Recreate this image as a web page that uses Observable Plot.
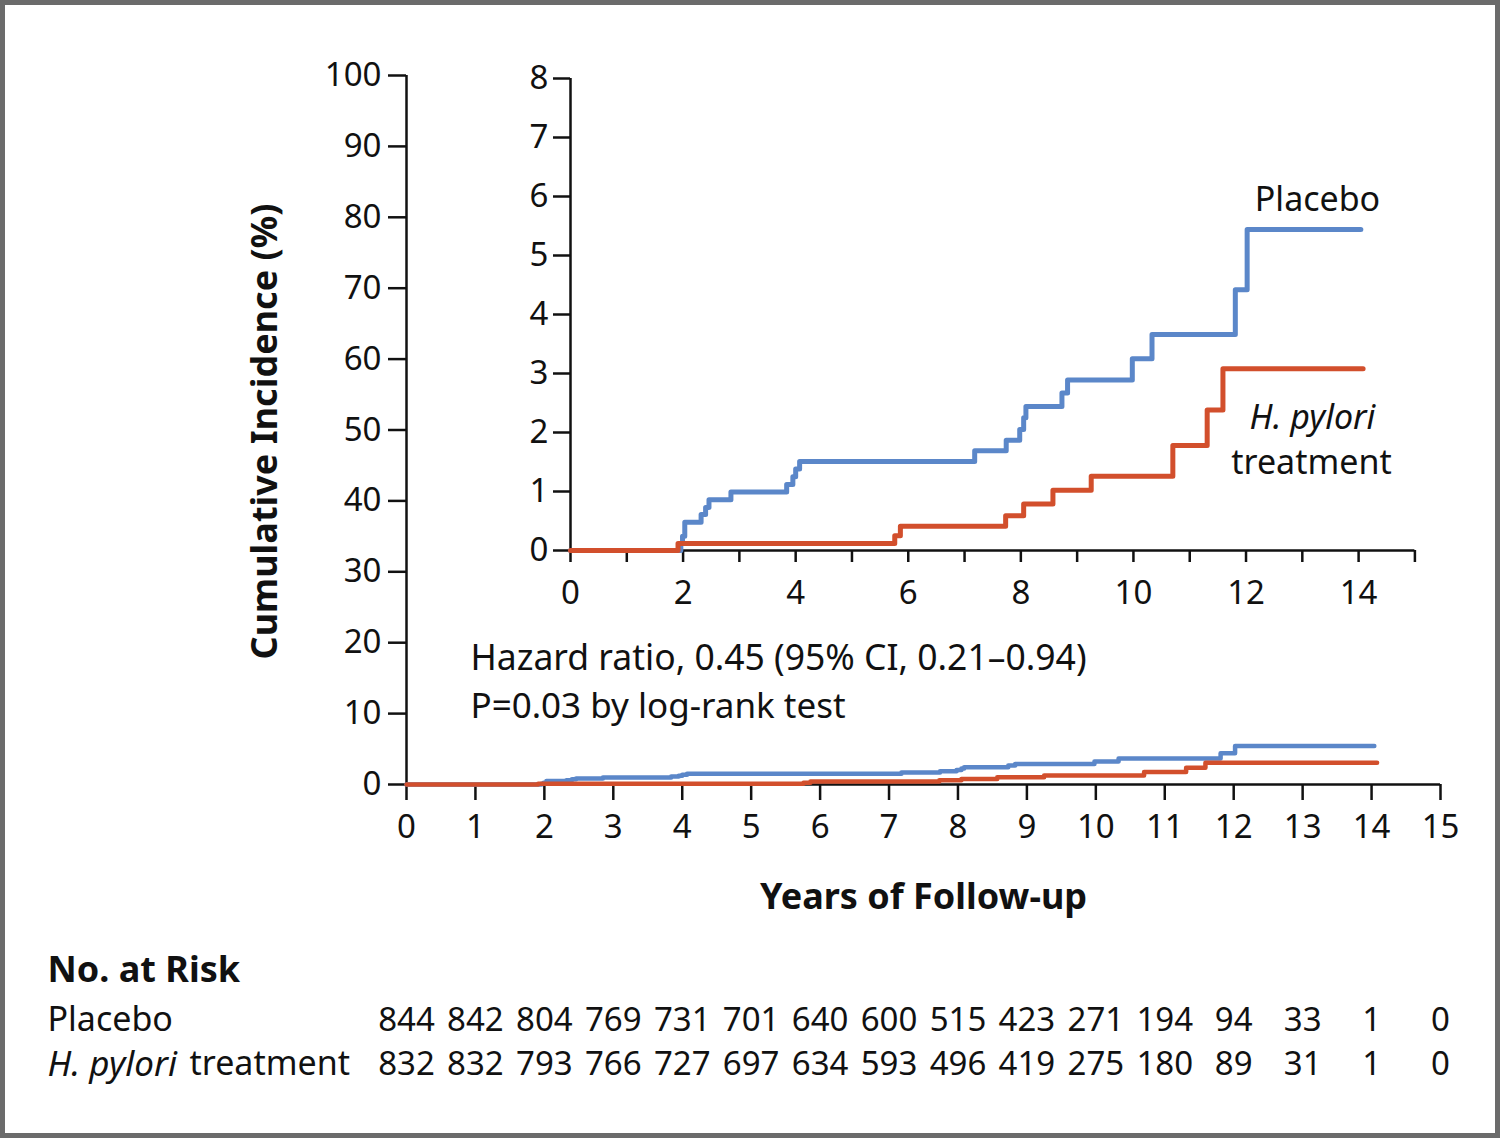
<!DOCTYPE html>
<html>
<head>
<meta charset="utf-8">
<script src="https://cdn.jsdelivr.net/npm/d3@7"></script>
<script src="https://cdn.jsdelivr.net/npm/@observablehq/plot@0.6"></script>
<style>
  html, body { margin: 0; padding: 0; background: #fff; }
  #wrap { position: relative; width: 1500px; height: 1138px; background: #fff; overflow: hidden; }
  #wrap svg { position: absolute; overflow: visible; }
  #border { position: absolute; left: 0; top: 0; width: 1500px; height: 1138px; box-sizing: border-box; border: 5px solid #6b6b6b; pointer-events: none; }
</style>
</head>
<body>
<div id="wrap"><div id="border"></div></div>
<script>
// ---------- data ----------
const years = [0,1,2,3,4,5,6,7,8,9,10,11,12,13,14,15];
const placeboAtRisk = [844,842,804,769,731,701,640,600,515,423,271,194,94,33,1,0];
const hpyloriAtRisk = [832,832,793,766,727,697,634,593,496,419,275,180,89,31,1,0];

// Kaplan-Meier style cumulative incidence (%) step points
const placeboTime = [0, 1.96, 1.99, 2.03, 2.32, 2.40, 2.46, 2.85, 3.84, 3.95, 4.00, 4.07, 7.18, 7.74, 7.98, 8.05, 8.09, 8.73, 8.83, 9.98, 10.33, 11.81, 12.02, 14.04];
const placeboInc  = [0, 0.12, 0.24, 0.48, 0.61, 0.73, 0.86, 0.99, 1.12, 1.25, 1.38, 1.51, 1.69, 1.87, 2.05, 2.25, 2.44, 2.67, 2.89, 3.25, 3.66, 4.42, 5.44, 5.44];
const hpyloriTime = [0, 1.91, 5.76, 5.86, 7.73, 8.05, 8.57, 9.25, 10.70, 11.31, 11.59, 14.08];
const hpyloriInc  = [0, 0.12, 0.25, 0.41, 0.59, 0.79, 1.02, 1.26, 1.78, 2.38, 3.08, 3.08];

const mainYTicks = [0,10,20,30,40,50,60,70,80,90,100];
const insetYTicks = [0,1,2,3,4,5,6,7,8];

// ---------- helpers ----------
const FONT = "'Noto Sans', 'Open Sans', sans-serif";
const BLUE = "#5b87c9";
const RED = "#d24f2c";
const INK = "#111";
const placeboRows = placeboTime.map((t, i) => ({t, v: placeboInc[i]}));
const hpyloriRows = hpyloriTime.map((t, i) => ({t, v: hpyloriInc[i]}));
const riskRows = (arr) => years.map((y, i) => ({year: y, n: arr[i]}));

const wrap = document.getElementById("wrap");

// ---------- main chart ----------
// frame: left 406, right 1440, top 75, bottom 784
const main = Plot.plot({
  width: 1500, height: 1138,
  marginLeft: 406, marginRight: 60, marginTop: 75, marginBottom: 354,
  style: {fontFamily: FONT, fontSize: "33px", color: INK, background: "transparent", overflow: "visible"},
  x: {domain: [0, 15]},
  y: {domain: [0, 100]},
  marks: [
    Plot.axisY({ticks: mainYTicks, tickSize: 18, tickPadding: 7, label: null, fontSize: 33, strokeWidth: 2.5, stroke: INK, fill: INK}),
    Plot.axisX({ticks: years, tickSize: 16, tickPadding: 14, label: null, fontSize: 33, strokeWidth: 2.5, stroke: INK, fill: INK}),
    Plot.ruleX([0], {stroke: INK, strokeWidth: 2.5}),
    Plot.ruleY([0], {stroke: INK, strokeWidth: 2.5}),
    Plot.line(placeboRows, {x: "t", y: "v", curve: "step-after", stroke: BLUE, strokeWidth: 4.5}),
    Plot.line(hpyloriRows, {x: "t", y: "v", curve: "step-after", stroke: RED, strokeWidth: 4.5}),
    // axis titles
    Plot.text(["Cumulative Incidence (%)"], {frameAnchor: "top-left", dx: -141, dy: 356, rotate: -90, textAnchor: "middle", lineAnchor: "middle", fontSize: 36, fontWeight: "bold", fill: INK}),
    Plot.text(["Years of Follow-up"], {frameAnchor: "bottom", dy: 113, textAnchor: "middle", lineAnchor: "middle", fontSize: 36, fontWeight: "bold", fill: INK}),
    // statistics
    Plot.text(["Hazard ratio, 0.45 (95% CI, 0.21\u20130.94)"], {frameAnchor: "bottom-left", dx: 64, dy: -126, textAnchor: "start", lineAnchor: "middle", fontSize: 35.5, fill: INK}),
    Plot.text(["P=0.03 by log-rank test"], {frameAnchor: "bottom-left", dx: 64, dy: -78, textAnchor: "start", lineAnchor: "middle", fontSize: 35, fill: INK}),
    // number at risk
    Plot.text(["No. at Risk"], {frameAnchor: "bottom-left", dx: -359, dy: 186, textAnchor: "start", lineAnchor: "middle", fontSize: 36, fontWeight: "bold", fill: INK}),
    Plot.text(["Placebo"], {frameAnchor: "bottom-left", dx: -359, dy: 236, textAnchor: "start", lineAnchor: "middle", fontSize: 34, fill: INK}),
    Plot.text(["H. pylori"], {frameAnchor: "bottom-left", dx: -359, dy: 280, textAnchor: "start", lineAnchor: "middle", fontSize: 35, fontStyle: "italic", fill: INK}),
    Plot.text(["treatment"], {frameAnchor: "bottom-left", dx: -217, dy: 280, textAnchor: "start", lineAnchor: "middle", fontSize: 34, fill: INK}),
    Plot.text(riskRows(placeboAtRisk), {x: "year", text: "n", frameAnchor: "bottom", dy: 236, textAnchor: "middle", lineAnchor: "middle", fontSize: 33, fill: INK}),
    Plot.text(riskRows(hpyloriAtRisk), {x: "year", text: "n", frameAnchor: "bottom", dy: 280, textAnchor: "middle", lineAnchor: "middle", fontSize: 33, fill: INK})
  ]
});
main.style.left = "0px";
main.style.top = "0px";
wrap.insertBefore(main, wrap.firstChild);

// ---------- inset chart ----------
// page frame: left 570, right 1414.4, top 78, bottom 550 ; svg at (470, 30)
const insetLeft = 470, insetTop = 30, insetW = 1010, insetH = 610;
const inset = Plot.plot({
  width: insetW, height: insetH,
  marginLeft: 100, marginTop: 48, marginRight: insetW - (1414.4 - insetLeft), marginBottom: insetH - (550 - insetTop),
  style: {fontFamily: FONT, fontSize: "33px", color: INK, background: "transparent", overflow: "visible"},
  x: {domain: [0, 15]},
  y: {domain: [0, 8]},
  marks: [
    Plot.axisY({ticks: insetYTicks, tickSize: 17, tickPadding: 5, label: null, fontSize: 33, strokeWidth: 2.5, stroke: INK, fill: INK}),
    Plot.axisX({ticks: years, tickSize: 12, tickPadding: 18, label: null, fontSize: 33, strokeWidth: 2.5, stroke: INK, fill: INK,
      tickFormat: d => (d % 2 === 0 && d < 15) ? String(d) : ""}),
    Plot.ruleX([0], {stroke: INK, strokeWidth: 2.5}),
    Plot.ruleY([0], {stroke: INK, strokeWidth: 2.5}),
    Plot.line(placeboRows, {x: "t", y: "v", curve: "step-after", stroke: BLUE, strokeWidth: 5}),
    Plot.line(hpyloriRows, {x: "t", y: "v", curve: "step-after", stroke: RED, strokeWidth: 5}),
    Plot.text(["Placebo"], {frameAnchor: "top-left", dx: 747, dy: 122, textAnchor: "middle", lineAnchor: "middle", fontSize: 34, fill: INK}),
    Plot.text(["H. pylori"], {frameAnchor: "top-left", dx: 742, dy: 340, textAnchor: "middle", lineAnchor: "middle", fontSize: 34, fontStyle: "italic", fill: INK}),
    Plot.text(["treatment"], {frameAnchor: "top-left", dx: 741, dy: 385, textAnchor: "middle", lineAnchor: "middle", fontSize: 34, fill: INK})
  ]
});
inset.style.left = insetLeft + "px";
inset.style.top = insetTop + "px";
wrap.insertBefore(inset, document.getElementById("border"));
</script>
</body>
</html>
